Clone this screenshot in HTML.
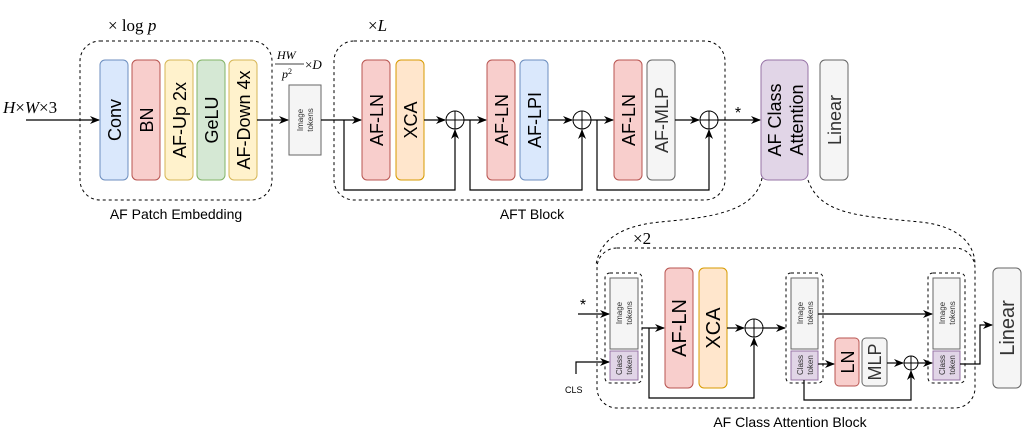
<!DOCTYPE html>
<html><head><meta charset="utf-8"><style>
html,body{margin:0;padding:0;background:#fff;}
svg{display:block;}
text{font-family:"Liberation Sans",sans-serif;}
.m text{font-family:"Liberation Serif",serif;font-style:italic;}
</style></head><body>
<svg width="1022" height="438" viewBox="0 0 1022 438" xmlns="http://www.w3.org/2000/svg">
<defs>
<marker id="a" markerWidth="10" markerHeight="8" refX="9" refY="4" orient="auto" markerUnits="userSpaceOnUse">
<path d="M0,0 L10,4 L0,8 L3,4 Z" fill="#000"/></marker>
</defs>
<g fill="none" stroke="#000" stroke-width="1" stroke-dasharray="3,3">
<rect x="80" y="41" width="192" height="159" rx="20"/>
<rect x="334" y="41" width="391" height="159" rx="20"/>
<rect x="597" y="248" width="378" height="160" rx="20"/>
<path d="M762,178 C755,215 700,218 660,222 C620,226 600,240 596,265"/>
<path d="M808,180 C820,215 860,216 920,222 C960,226 975,245 975,265"/>
<rect x="605" y="273" width="37" height="110" rx="5"/>
<rect x="786" y="273" width="37" height="110" rx="5"/>
<rect x="928" y="273" width="37" height="110" rx="5"/>
</g>
<g stroke-width="1">
<rect x="100" y="60" width="28" height="120" rx="5" fill="#dae8fc" stroke="#6c8ebf"/>
<rect x="132" y="60" width="28" height="120" rx="5" fill="#f8cecc" stroke="#b85450"/>
<rect x="165" y="60" width="28" height="120" rx="5" fill="#fff2cc" stroke="#d6b656"/>
<rect x="197" y="60" width="28" height="120" rx="5" fill="#d5e8d4" stroke="#82b366"/>
<rect x="229" y="60" width="28" height="120" rx="5" fill="#fff2cc" stroke="#d6b656"/>
<rect x="289" y="85" width="32" height="70" fill="#f5f5f5" stroke="#666"/>
<rect x="362" y="60" width="28" height="120" rx="5" fill="#f8cecc" stroke="#b85450"/>
<rect x="396" y="60" width="28" height="120" rx="5" fill="#ffe6cc" stroke="#d79b00"/>
<rect x="487" y="60" width="28" height="120" rx="5" fill="#f8cecc" stroke="#b85450"/>
<rect x="520" y="60" width="28" height="120" rx="5" fill="#dae8fc" stroke="#6c8ebf"/>
<rect x="614" y="60" width="28" height="120" rx="5" fill="#f8cecc" stroke="#b85450"/>
<rect x="647" y="60" width="28" height="120" rx="5" fill="#f5f5f5" stroke="#666"/>
<rect x="761" y="60" width="47" height="120" rx="7" fill="#e1d5e7" stroke="#9673a6"/>
<rect x="820" y="60" width="28" height="120" rx="5" fill="#f5f5f5" stroke="#666"/>
<rect x="665" y="268" width="28" height="120" rx="5" fill="#f8cecc" stroke="#b85450"/>
<rect x="699" y="268" width="28" height="120" rx="5" fill="#ffe6cc" stroke="#d79b00"/>
<rect x="835" y="338" width="24" height="48" rx="4" fill="#f8cecc" stroke="#b85450"/>
<rect x="862" y="338" width="25" height="48" rx="4" fill="#f5f5f5" stroke="#666"/>
<rect x="993" y="268" width="28" height="120" rx="5" fill="#f5f5f5" stroke="#666"/>
<rect x="610" y="278" width="28" height="71" fill="#f5f5f5" stroke="#666"/>
<rect x="610" y="351" width="28" height="29" fill="#e1d5e7" stroke="#9673a6"/>
<rect x="791" y="278" width="27" height="71" fill="#f5f5f5" stroke="#666"/>
<rect x="791" y="351" width="27" height="29" fill="#e1d5e7" stroke="#9673a6"/>
<rect x="933" y="278" width="27" height="71" fill="#f5f5f5" stroke="#666"/>
<rect x="933" y="351" width="27" height="29" fill="#e1d5e7" stroke="#9673a6"/>
</g>
<g fill="#fff" stroke="#000">
<circle cx="455" cy="120" r="9"/><path d="M446,120H464M455,111V129"/>
<circle cx="582" cy="120" r="9"/><path d="M573,120H591M582,111V129"/>
<circle cx="709" cy="120" r="9"/><path d="M700,120H718M709,111V129"/>
<circle cx="754" cy="328" r="9"/><path d="M745,328H763M754,319V337"/>
<circle cx="911" cy="363" r="7"/><path d="M904,363H918M911,356V370"/>
</g>
<g fill="none" stroke="#000" stroke-width="1.2">
<path d="M26,120H99" marker-end="url(#a)"/>
<path d="M257,120H288" marker-end="url(#a)"/>
<path d="M321,120H361" marker-end="url(#a)"/>
<path d="M344,120V190H455V130" marker-end="url(#a)"/>
<path d="M424,120H445" marker-end="url(#a)"/>
<path d="M464,120H486" marker-end="url(#a)"/>
<path d="M470,120V190H582V130" marker-end="url(#a)"/>
<path d="M548,120H572" marker-end="url(#a)"/>
<path d="M591,120H613" marker-end="url(#a)"/>
<path d="M597,120V190H709V130" marker-end="url(#a)"/>
<path d="M675,120H699" marker-end="url(#a)"/>
<path d="M718,120H760" marker-end="url(#a)"/>
<path d="M578,314H609" marker-end="url(#a)"/>
<path d="M576,374V362H609" marker-end="url(#a)"/>
<path d="M642,328H664" marker-end="url(#a)"/>
<path d="M649,328V398H754V338" marker-end="url(#a)"/>
<path d="M727,328H744" marker-end="url(#a)"/>
<path d="M763,328H785" marker-end="url(#a)"/>
<path d="M818,314H932" marker-end="url(#a)"/>
<path d="M818,364H834" marker-end="url(#a)"/>
<path d="M804,380V400H911V371" marker-end="url(#a)"/>
<path d="M887,363H903" marker-end="url(#a)"/>
<path d="M918,363H932" marker-end="url(#a)"/>
<path d="M960,364H980V325H992" marker-end="url(#a)"/>
<path d="M275,64H304" stroke-width="0.8"/>
</g>
<g font-size="18" fill="#000" text-anchor="middle">
<text transform="translate(121,120) rotate(-90)">Conv</text>
<text transform="translate(153,120) rotate(-90)">BN</text>
<text transform="translate(186,120) rotate(-90)">AF-Up 2x</text>
<text transform="translate(218,120) rotate(-90)">GeLU</text>
<text transform="translate(250,120) rotate(-90)">AF-Down 4x</text>
<text transform="translate(383,120) rotate(-90)">AF-LN</text>
<text transform="translate(417,120) rotate(-90)">XCA</text>
<text transform="translate(508,120) rotate(-90)">AF-LN</text>
<text transform="translate(541,120) rotate(-90)">AF-LPI</text>
<text transform="translate(635,120) rotate(-90)">AF-LN</text>
<text transform="translate(668,120) rotate(-90)" fill="#333">AF-MLP</text>
<text transform="translate(781,120) rotate(-90)">AF Class</text>
<text transform="translate(803,120) rotate(-90)">Attention</text>
<text transform="translate(841,120) rotate(-90)" fill="#333">Linear</text>
<text transform="translate(686,328) rotate(-90)" font-size="20">AF-LN</text>
<text transform="translate(720,328) rotate(-90)" font-size="20">XCA</text>
<text transform="translate(854,362) rotate(-90)" font-size="18">LN</text>
<text transform="translate(881,362) rotate(-90)" font-size="18" fill="#333">MLP</text>
<text transform="translate(1014,328) rotate(-90)" font-size="20" fill="#333">Linear</text>
</g>
<g font-size="8" fill="#333" text-anchor="middle">
<text transform="translate(303,120) rotate(-90)">Image</text>
<text transform="translate(313,120) rotate(-90)">tokens</text>
<text transform="translate(622,313) rotate(-90)">Image</text>
<text transform="translate(632,313) rotate(-90)">tokens</text>
<text transform="translate(622,365) rotate(-90)">Class</text>
<text transform="translate(632,365) rotate(-90)">token</text>
<text transform="translate(803,313) rotate(-90)">Image</text>
<text transform="translate(813,313) rotate(-90)">tokens</text>
<text transform="translate(803,365) rotate(-90)">Class</text>
<text transform="translate(813,365) rotate(-90)">token</text>
<text transform="translate(945,313) rotate(-90)">Image</text>
<text transform="translate(955,313) rotate(-90)">tokens</text>
<text transform="translate(945,365) rotate(-90)">Class</text>
<text transform="translate(955,365) rotate(-90)">token</text>
</g>
<g font-size="14" fill="#000" text-anchor="middle">
<text x="176" y="219">AF Patch Embedding</text>
<text x="532" y="219">AFT Block</text>
<text x="790" y="427">AF Class Attention Block</text>
</g>
<text x="565" y="393" font-size="9">CLS</text>
<text x="738" y="118" font-size="16" text-anchor="middle">*</text>
<text x="583" y="310" font-size="16" text-anchor="middle">*</text>
<g class="m" fill="#000">
<text x="3" y="113" font-size="17">H<tspan font-style="normal">×</tspan>W<tspan font-style="normal">×3</tspan></text>
<text x="108" y="31" font-size="17"><tspan font-style="normal">× log </tspan>p</text>
<text x="368" y="31" font-size="17"><tspan font-style="normal">×</tspan>L</text>
<text x="633" y="244" font-size="17"><tspan font-style="normal">×2</tspan></text>
<text x="277" y="59" font-size="12">HW</text>
<text x="282" y="78" font-size="12">p<tspan font-size="8" dy="-4" font-style="normal">2</tspan></text>
<text x="305" y="69" font-size="13"><tspan font-style="normal">×</tspan>D</text>
</g>
</svg>
</body></html>
